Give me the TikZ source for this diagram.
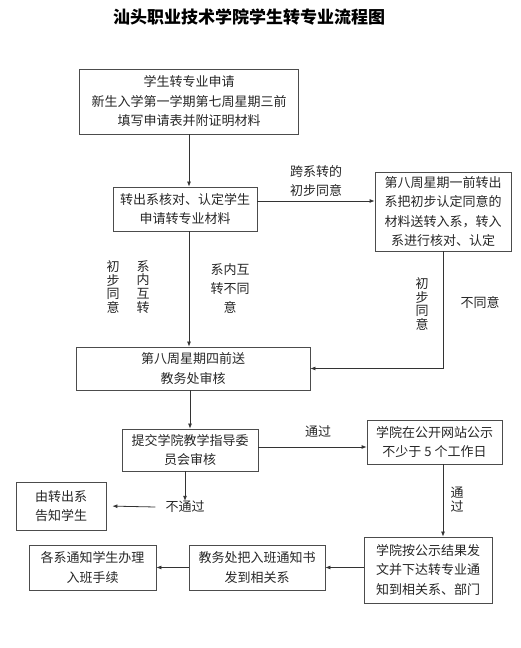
\documentclass[tikz,border=0pt]{standalone}
\usepackage{fontspec}
\setmainfont{Noto Sans CJK SC}
\usetikzlibrary{arrows.meta, calc}

\begin{document}
\begin{tikzpicture}[
    x=1pt, y=1pt,
    box/.style={rectangle, draw=black!70, line width=0.8pt, inner sep=0pt,
                align=center, text=black!85,
                font=\fontsize{13}{19.5}\selectfont},
    lbl/.style={align=center, text=black!85, inner sep=0pt,
                font=\fontsize{13}{19}\selectfont},
    vlbl/.style={lbl, font=\fontsize{13}{13.8}\selectfont},
    arrow/.style={-{Latex[length=5pt, width=4pt]}, draw=black!80, line width=0.8pt}
]
  \useasboundingbox (0,0) rectangle (521,648);

  \node[font=\fontsize{17}{20}\selectfont\bfseries] (title) at (249,631)
    {汕头职业技术学院学生转专业流程图};

  % application and first check
  \node[box, minimum width=219, minimum height=65] (apply) at (189,546.5)
    {学生转专业申请\\新生入学第一学期第七周星期三前\\填写申请表并附证明材料};
  \node[box, minimum width=144, minimum height=44] (check) at (185,439)
    {转出系核对、认定学生\\申请转专业材料};
  \node[box, minimum width=136, minimum height=79] (cross) at (443,436.5)
    {第八周星期一前转出\\系把初步认定同意的\\材料送转入系，转入\\系进行核对、认定};

  % academic affairs and committee
  \node[box, minimum width=234, minimum height=43] (affairs) at (193,279.5)
    {第八周星期四前送\\教务处审核};
  \node[box, minimum width=136, minimum height=42] (review) at (190,198)
    {提交学院教学指导委\\员会审核};
  \node[box, minimum width=135, minimum height=44] (publish) at (434.5,206)
    {学院在公开网站公示\\不少于 5 个工作日};
  \node[lbl, inner xsep=10pt] (fail) at (185,141) {不通过};
  \node[box, minimum width=90, minimum height=48] (inform) at (61,142)
    {由转出系\\告知学生};

  % final notices
  \node[box, minimum width=128, minimum height=66] (issue) at (428,78)
    {学院按公示结果发\\文并下达转专业通\\知到相关系、部门};
  \node[box, minimum width=136, minimum height=45] (notice) at (257,80.5)
    {教务处把入班通知书\\发到相关系};
  \node[box, minimum width=127, minimum height=45] (enrol) at (92.5,80.5)
    {各系通知学生办理\\入班手续};

  % edge labels
  \node[lbl] (crossok) at (316,467) {跨系转的\\初步同意};
  \node[vlbl] (inok) at (113,361) {初\\步\\同\\意};
  \node[vlbl] (inner) at (143,361) {系\\内\\互\\转};
  \node[lbl] (inno) at (230,359) {系内互\\转不同\\意};
  \node[vlbl] (took) at (422,344) {初\\步\\同\\意};
  \node[lbl] (tono) at (480,345) {不同意};
  \node[lbl] (passa) at (318,216) {通过};
  \node[vlbl] (passb) at (457,148) {通\\过};

  \draw[arrow] (apply) -- (apply |- check.north);
  \draw[arrow] ($(check.east)+(0,8)$) -- ($(check.east -| cross.west)+(0,8)$);
  \draw[arrow] (apply |- check.south) -- (apply |- affairs.north);
  \draw[arrow] (cross.south) |- (affairs.east);
  \draw[arrow] (review |- affairs.south) -- (review.north);
  \draw[arrow] ($(review.east)+(0,3)$) -- ($(review.east -| publish.west)+(0,3)$);
  \draw[arrow] (fail |- review.south) -- (fail.north);
  \draw[arrow, shorten >=6pt] (fail.west) -- (inform.east);
  \draw[arrow] (cross |- publish.south) -- (cross |- issue.north);
  \draw[arrow] (issue.west |- notice) -- (notice.east);
  \draw[arrow] (notice.west) -- (enrol.east);
\end{tikzpicture}
\end{document}
